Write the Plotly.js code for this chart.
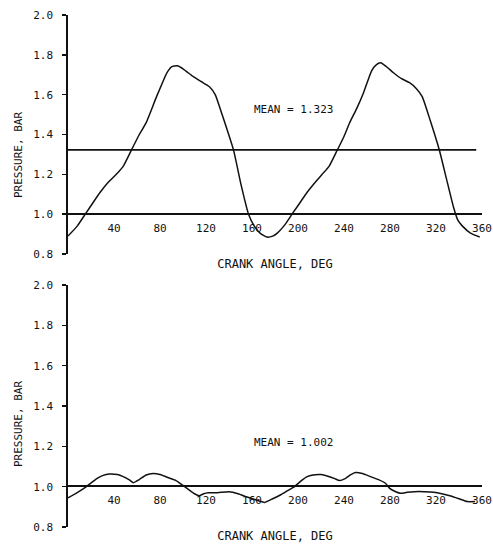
<!DOCTYPE html>
<html>
<head>
<meta charset="utf-8">
<script src="https://cdn.plot.ly/plotly-3.0.1.min.js"></script>
<style>html,body{margin:0;padding:0;background:#fff;}#chart{width:493px;height:555px;}</style>
</head>
<body>
<div id="chart"></div>
<script>
// ---- data ----
const topAngle = [0,8,15,22,28,35,42,48,55,62,68,77,86,90,95,100,109,116,123,128,134,144,150,157,162,167,173,178,182,189,196,202,208,215,221,227,234,240,245,251,257,264,268,272,277,283,290,297,303,308,315,323,329,335,339,343,350,358];
const topPressure = [0.89,0.94,1.0,1.06,1.11,1.16,1.2,1.24,1.32,1.40,1.46,1.59,1.71,1.74,1.745,1.73,1.69,1.665,1.64,1.60,1.50,1.32,1.16,1.0,0.94,0.905,0.885,0.89,0.905,0.95,1.01,1.06,1.11,1.16,1.2,1.24,1.32,1.39,1.46,1.53,1.61,1.72,1.75,1.76,1.74,1.71,1.68,1.66,1.63,1.59,1.47,1.32,1.18,1.04,0.97,0.94,0.905,0.885];
const botAngle = [0,8,16,25,30,36,43,48,53,57,62,68,74,80,88,94,99,105,110,114,118,122,130,140,148,155,163,171,178,185,191,197,203,208,213,220,226,232,236,241,246,250,256,263,270,276,280,285,289,295,301,310,318,325,332,340,347,354];
const botPressure = [0.944,0.97,1.0,1.04,1.055,1.063,1.06,1.05,1.035,1.02,1.035,1.058,1.065,1.06,1.043,1.03,1.01,0.985,0.965,0.955,0.965,0.97,0.97,0.975,0.965,0.95,0.935,0.922,0.94,0.96,0.98,1.0,1.03,1.05,1.058,1.06,1.052,1.04,1.03,1.04,1.06,1.07,1.065,1.05,1.035,1.017,0.99,0.975,0.967,0.972,0.975,0.975,0.972,0.965,0.955,0.94,0.926,0.926];
const topMean = 1.323;
const botMean = 1.002;
const xTickVals = [40,80,120,160,200,240,280,320,360];
const yTickVals = [0.8,1.0,1.2,1.4,1.6,1.8,2.0];
const xTitle = "CRANK ANGLE, DEG";
const yTitle = "PRESSURE, BAR";

const FONT = "DejaVu Sans Mono";
const INK = "#111";

const lineStyle = {color: INK, width: 1.5, shape: 'spline', smoothing: 0.5};
const traces = [
  {x: topAngle, y: topPressure, mode: 'lines', line: lineStyle, xaxis: 'x', yaxis: 'y', showlegend: false, hoverinfo: 'skip'},
  {x: botAngle, y: botPressure, mode: 'lines', line: lineStyle, xaxis: 'x2', yaxis: 'y2', showlegend: false, hoverinfo: 'skip'}
];

function xAxis(pos) {
  return {
    range: [0, 360], anchor: 'free', position: pos, domain: [0, 1],
    showgrid: false, zeroline: false, showline: true, linecolor: INK, linewidth: 1.7,
    tickmode: 'array', tickvals: xTickVals, ticks: '', ticklabelstandoff: 4,
    tickfont: {family: FONT, size: 11, color: INK},
    title: {text: xTitle, font: {family: FONT, size: 12, color: INK}, standoff: 26},
    automargin: false, fixedrange: true
  };
}
function yAxis(domain, anchorX) {
  return {
    domain: domain, range: [0.8, 2.0], anchor: anchorX,
    showgrid: false, zeroline: false, showline: true, linecolor: INK, linewidth: 1.7,
    tickmode: 'array', tickvals: yTickVals, tickformat: '.1f',
    ticks: 'outside', ticklen: 4, tickwidth: 1.4, tickcolor: INK, ticklabelstandoff: 7,
    tickfont: {family: FONT, size: 11, color: INK},
    automargin: false, fixedrange: true
  };
}

const H = 555;
const layout = {
  width: 493, height: 555,
  margin: {l: 68, r: 11, t: 0, b: 0},
  paper_bgcolor: '#fff', plot_bgcolor: 'rgba(0,0,0,0)',
  xaxis: xAxis(1 - 213/H),
  yaxis: yAxis([1 - 254/H, 1 - 15/H], 'x'),
  xaxis2: xAxis(1 - 485/H),
  yaxis2: yAxis([1 - 527/H, 1 - 285/H], 'x2'),
  shapes: [
    {type: 'line', xref: 'x', yref: 'y', x0: 0, x1: 355, y0: topMean, y1: topMean, line: {color: INK, width: 1.7}},
    {type: 'line', xref: 'x2', yref: 'y2', x0: 0, x1: 360, y0: botMean, y1: botMean, line: {color: INK, width: 1.2}}
  ],
  annotations: [
    {xref: 'x', yref: 'y', x: 160, y: 1.523, xanchor: 'left', yanchor: 'middle', showarrow: false,
     text: 'MEAN = ' + topMean.toFixed(3), font: {family: FONT, size: 11, color: INK}},
    {xref: 'x2', yref: 'y2', x: 160, y: 1.217, xanchor: 'left', yanchor: 'middle', showarrow: false,
     text: 'MEAN = ' + botMean.toFixed(3), font: {family: FONT, size: 11, color: INK}},
    {xref: 'paper', yref: 'paper', x: -50/414, y: 1 - 155/H, xanchor: 'center', yanchor: 'middle', showarrow: false,
     textangle: -90, text: yTitle, font: {family: FONT, size: 11, color: INK}},
    {xref: 'paper', yref: 'paper', x: -50/414, y: 1 - 424/H, xanchor: 'center', yanchor: 'middle', showarrow: false,
     textangle: -90, text: yTitle, font: {family: FONT, size: 11, color: INK}}
  ]
};

Plotly.newPlot('chart', traces, layout, {displayModeBar: false, staticPlot: true});
</script>
</body>
</html>
